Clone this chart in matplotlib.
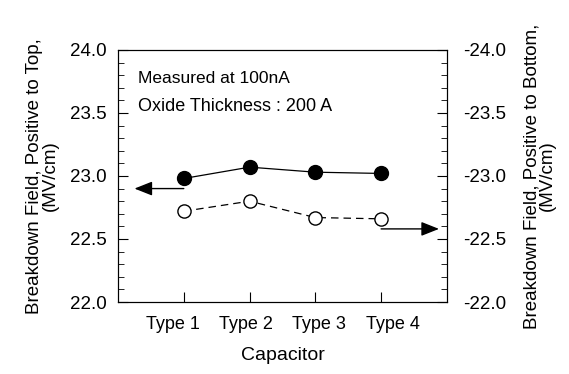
import numpy as np
import matplotlib.pyplot as plt
from matplotlib.ticker import MultipleLocator

plt.rcParams['font.family'] = ['Liberation Sans', 'DejaVu Sans']

# Data
capacitors = ['Type 1', 'Type 2', 'Type 3', 'Type 4']
field_top = [22.98, 23.07, 23.03, 23.02]         # positive to top (left axis)
field_bottom = [-22.72, -22.80, -22.67, -22.66]  # positive to bottom (right axis)

x = np.arange(1, len(capacitors) + 1)
# the category labels in the original sit a bit wider apart than the tick marks
label_pos = 2.5 + (x - 2.5) * 1.115

fig = plt.figure(figsize=(5.69, 3.74), dpi=100)
ax = fig.add_axes([0.2074, 0.1925, 0.578, 0.674])
ax2 = ax.twinx()

# Left axis: filled circles, solid line
ax.plot(x, field_top, 'k-', lw=0.9, marker='o', ms=10, mfc='black', mec='black')
ax.set_xlim(0, 5)
ax.set_ylim(22.0, 24.0)
ax.yaxis.set_minor_locator(MultipleLocator(0.1))
ax.set_yticks([22.0, 22.5, 23.0, 23.5, 24.0])
ax.set_yticklabels(['22.0', '22.5', '23.0', '23.5', '24.0'])
ax.set_xticks(x)
ax.set_xticklabels([])
ax.set_xticks(label_pos, minor=True)
ax.set_xticklabels(capacitors, minor=True)
ax.tick_params(axis='y', which='both', direction='in', labelsize=13.5, pad=8)
ax.tick_params(axis='y', which='major', length=7)
ax.tick_params(axis='y', which='minor', length=4)
ax.tick_params(axis='x', which='major', direction='in', length=7)
ax.tick_params(axis='x', which='minor', length=0, labelsize=13, pad=10)
ax.set_xlabel('Capacitor', fontsize=14, labelpad=10)
ax.set_ylabel('Breakdown Field, Positive to Top,\n(MV/cm)', fontsize=13.5, labelpad=8,
              linespacing=0.9)

# Right axis: open circles, dashed line, inverted
ax2.plot(x, field_bottom, color='black', lw=0.9, ls=(0, (6, 4)), marker='o', ms=9.5,
         mfc='white', mec='black', mew=1.0)
ax2.set_ylim(-22.0, -24.0)
ax2.yaxis.set_minor_locator(MultipleLocator(0.1))
ax2.set_yticks([-24.0, -23.5, -23.0, -22.5, -22.0])
ax2.set_yticklabels(['-24.0', '-23.5', '-23.0', '-22.5', '-22.0'])
ax2.tick_params(axis='y', which='both', direction='in', labelsize=13.5, pad=12)
ax2.tick_params(axis='y', which='major', length=7)
ax2.tick_params(axis='y', which='minor', length=4)
ax2.set_ylabel('Breakdown Field, Positive to Bottom,\n(MV/cm)', fontsize=13.5, labelpad=12,
               linespacing=0.9)

# Arrows pointing to the relevant axis
arrow = dict(arrowstyle='-|>,head_length=0.68,head_width=0.27', color='black', lw=1.0,
             mutation_scale=16, shrinkA=0, shrinkB=0)
ax.annotate('', xy=(0.25, 22.90), xytext=(1.0, 22.90), arrowprops=arrow)
ax2.annotate('', xy=(4.88, -22.58), xytext=(4.0, -22.58), arrowprops=arrow)

ax.text(0.06, 0.885, 'Measured at 100nA', transform=ax.transAxes, fontsize=12.5, va='center')
ax.text(0.06, 0.775, 'Oxide Thickness : 200 A', transform=ax.transAxes, fontsize=13,
        va='center')

fig.savefig('out.png', dpi=100)
